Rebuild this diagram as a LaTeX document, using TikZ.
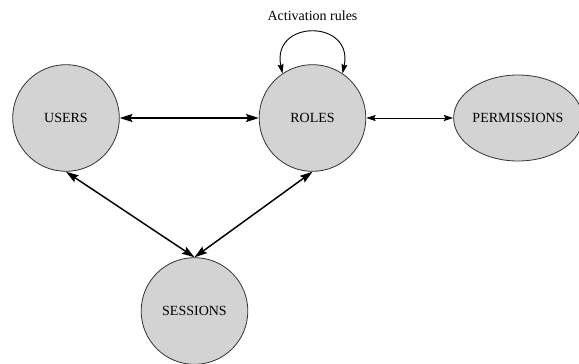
\documentclass[tikz,border=0pt]{standalone}
\usepackage{fontspec}
\setmainfont{Liberation Serif}
\usetikzlibrary{arrows.meta,shapes.geometric}
\definecolor{nodefill}{HTML}{D3D3D3}
\definecolor{nodeline}{HTML}{333333}
\tikzset{
  entity/.style={circle, draw=nodeline, line width=0.6pt, fill=nodefill,
    minimum size=80pt, inner sep=0pt, font=\fontsize{10.5}{12}\selectfont},
  oval/.style={ellipse, draw=nodeline, line width=0.6pt, fill=nodefill,
    minimum width=91.5pt, minimum height=64.5pt, inner sep=0pt,
    font=\fontsize{10.5}{12}\selectfont},
  bold link/.style={{Stealth[length=9.5pt,width=6pt,inset=1.5pt]}-{Stealth[length=9.5pt,width=6pt,inset=1.5pt]}, line width=1.3pt},
  thin link/.style={{Stealth[length=7pt,width=4.5pt,inset=1pt]}-{Stealth[length=7pt,width=4.5pt,inset=1pt]}, line width=0.7pt},
}
\begin{document}
\begin{tikzpicture}[x=0.75pt, y=-0.75pt]
  \useasboundingbox[fill=white] (0,0) rectangle (579,364);
  \node[entity] (users) at (66,118) {USERS};
  \node[entity] (roles) at (312.5,118) {ROLES};
  \node[oval] (perms) at (518,118) {PERMISSIONS};
  \node[entity] (sessions) at (194.5,311) {SESSIONS};
  \node[font=\fontsize{10.5}{12}\selectfont] (rulelabel) at (312.5,15.5) {Activation rules};

  \draw[bold link] (users) -- (roles);
  \draw[thin link] (roles) -- (perms);
  \draw[bold link, line width=1.1pt] (users.south) -- (sessions.north);
  \draw[bold link, line width=1.1pt] (roles.south) -- (sessions.north);
  \draw[thin link] (roles.124) .. controls (271,19) and (354,19) .. (roles.56);
\end{tikzpicture}
\end{document}
